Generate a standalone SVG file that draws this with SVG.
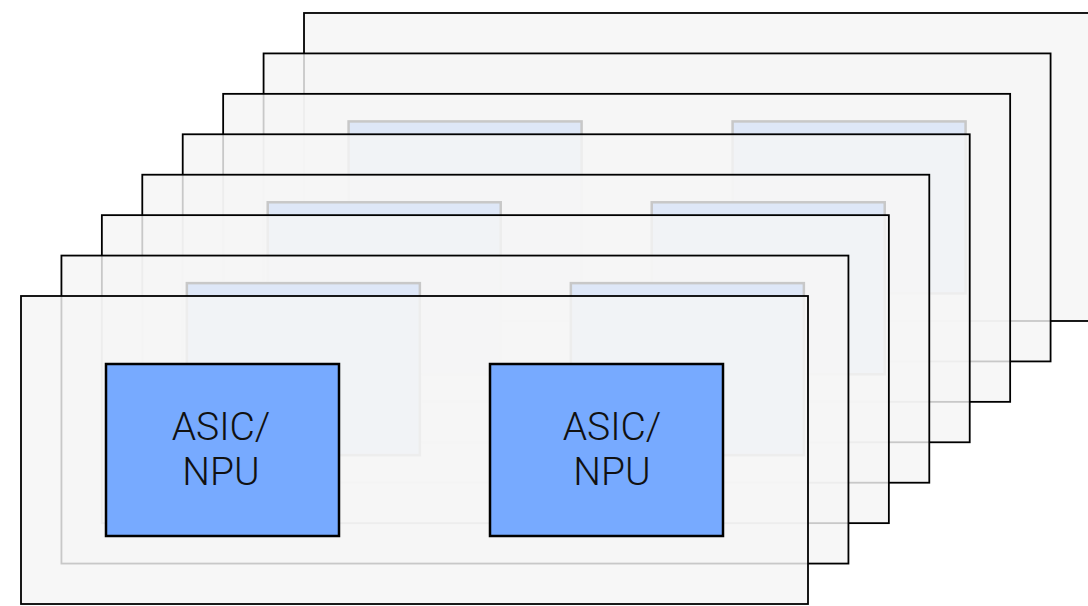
<svg xmlns="http://www.w3.org/2000/svg" width="1088" height="606" viewBox="0 0 1088 606">
<style>
.card{fill:#f5f5f5;fill-opacity:0.816;stroke:#000;stroke-width:1.8}
.box{fill:#77aaff;stroke:#000;stroke-width:2.5}
.lbl{font-family:Roboto,"Liberation Sans",sans-serif;font-weight:300;font-size:39px;fill:#111;text-anchor:middle}
</style>
<rect width="1088" height="606" fill="#fff"/>
<g id="card8" transform="translate(304.01,12.99)"><rect class="card" x="0" y="0" width="787" height="308"/></g>
<g id="card7" transform="translate(263.58,53.42)"><rect class="card" x="0" y="0" width="787" height="308"/><rect class="box" x="85" y="68" width="233" height="172"/><rect class="box" x="469" y="68" width="233" height="172"/></g>
<g id="card6" transform="translate(223.15,93.85)"><rect class="card" x="0" y="0" width="787" height="308"/></g>
<g id="card5" transform="translate(182.72,134.28)"><rect class="card" x="0" y="0" width="787" height="308"/><rect class="box" x="85" y="68" width="233" height="172"/><rect class="box" x="469" y="68" width="233" height="172"/></g>
<g id="card4" transform="translate(142.29,174.71)"><rect class="card" x="0" y="0" width="787" height="308"/></g>
<g id="card3" transform="translate(101.86,215.14)"><rect class="card" x="0" y="0" width="787" height="308"/><rect class="box" x="85" y="68" width="233" height="172"/><rect class="box" x="469" y="68" width="233" height="172"/></g>
<g id="card2" transform="translate(61.43,255.57)"><rect class="card" x="0" y="0" width="787" height="308"/></g>
<g id="card1" transform="translate(21,296)"><rect class="card" x="0" y="0" width="787" height="308"/></g>
<g id="asic1"><rect class="box" x="106" y="364" width="233" height="172"/><text class="lbl" x="221" y="440">ASIC/</text><text class="lbl" x="221" y="485">NPU</text></g>
<g id="asic2"><rect class="box" x="490" y="364" width="233" height="172"/><text class="lbl" x="612" y="440">ASIC/</text><text class="lbl" x="612" y="485">NPU</text></g>
<g id="connectors"></g>
</svg>
